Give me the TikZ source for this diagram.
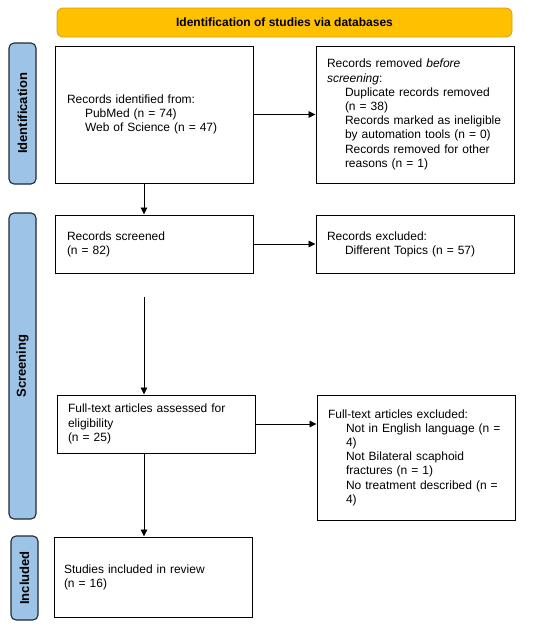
\documentclass[tikz,border=0pt]{standalone}
\usepackage{fontspec}
\setmainfont{Liberation Sans}
\usetikzlibrary{arrows.meta,calc}
\definecolor{bannerfill}{HTML}{FFC000}
\definecolor{bannerdraw}{HTML}{D4A017}
\definecolor{sidefill}{HTML}{9DC3E6}
\definecolor{sidedraw}{HTML}{1F2A3A}
\tikzset{
  stagebox/.style={draw=black, line width=1pt, fill=white, inner xsep=11pt, inner ysep=4pt,
    align=left, anchor=center, font=\fontsize{12}{14.2}\selectfont},
  sidebar/.style={draw=sidedraw, line width=1.1pt, fill=sidefill, rounded corners=5pt,
    inner sep=0pt, font=\fontsize{13}{15}\selectfont\bfseries},
  banner/.style={draw=bannerdraw, line width=0.8pt, fill=bannerfill, rounded corners=6pt,
    inner sep=0pt, font=\fontsize{12}{14}\selectfont\bfseries},
  arr/.style={line width=0.9pt, -{Triangle[length=7pt,width=6.5pt]}}
}
\newcommand{\ind}{\hspace*{18pt}}
\begin{document}
\begin{tikzpicture}[x=1pt,y=-1pt]
\useasboundingbox[fill=white] (0,0) rectangle (550,627);

% banner
\node[banner, minimum width=455pt, minimum height=29pt] (ban) at (284.5,22.5) {Identification of studies via databases};

% side bars
\node[sidebar, minimum width=27pt, minimum height=141pt] (s1) at (22.5,113.5) {};
\node[rotate=90, font=\fontsize{13}{15}\selectfont\bfseries] (s1t) at (s1.center) {Identification};
\node[sidebar, minimum width=27pt, minimum height=306pt] (s2) at (22.5,366) {};
\node[rotate=90, font=\fontsize{13}{15}\selectfont\bfseries] (s2t) at (s2.center) {Screening};
\node[sidebar, minimum width=27pt, minimum height=84pt] (s3) at (24.5,578) {};
\node[rotate=90, font=\fontsize{13}{15}\selectfont\bfseries] (s3t) at (s3.center) {Included};

% boxes
\node[stagebox, minimum width=198pt, minimum height=137pt, text width=174pt, inner xsep=12pt] (b1) at (154,114.5)
  {Records identified from:\\ \ind PubMed (n = 74)\\ \ind Web of Science (n = 47)};
\node[stagebox, minimum width=198pt, minimum height=137pt, text width=176pt] (b2) at (415,114.5)
  {Records removed \emph{before}\\ \emph{screening}:\\
   \ind Duplicate records removed\\ \ind (n = 38)\\
   \ind Records marked as ineligible\\ \ind by automation tools (n = 0)\\
   \ind Records removed for other\\ \ind reasons (n = 1)};
\node[stagebox, minimum width=198pt, minimum height=58pt, text width=174pt, inner xsep=12pt] (b3) at (154,244)
  {Records screened\\ (n = 82)};
\node[stagebox, minimum width=198pt, minimum height=58pt, text width=176pt] (b4) at (415,244)
  {Records excluded:\\ \ind Different Topics (n = 57)};
\node[stagebox, minimum width=198pt, minimum height=58pt, text width=176pt, inner xsep=11pt] (b5) at (156,424)
  {Full-text articles assessed for\\ eligibility\\ (n = 25)};
\node[stagebox, minimum width=198pt, minimum height=125pt, text width=176pt] (b6) at (416,457.5)
  {Full-text articles excluded:\\
   \ind Not in English language (n =\\ \ind 4)\\
   \ind Not Bilateral scaphoid\\ \ind fractures (n = 1)\\
   \ind No treatment described (n =\\ \ind 4)};
\node[stagebox, minimum width=198pt, minimum height=80pt, text width=178pt, inner xsep=10pt] (b7) at (153,577)
  {Studies included in review\\ (n = 16)};

% connectors
\coordinate (cx) at (144,0);
\coordinate (free) at (144,297);
\draw[arr] (b1.east) -- (b2.west);
\draw[arr] (b1.south -| cx) -- (b3.north -| cx);
\draw[arr] (b3.east) -- (b3.east -| b4.west);
\draw[arr] (free) -- (b5.north -| cx);
\draw[arr] (b5.east) -- (b5.east -| b6.west);
\draw[arr] (b5.south -| cx) -- (b7.north -| cx);
\end{tikzpicture}
\end{document}
